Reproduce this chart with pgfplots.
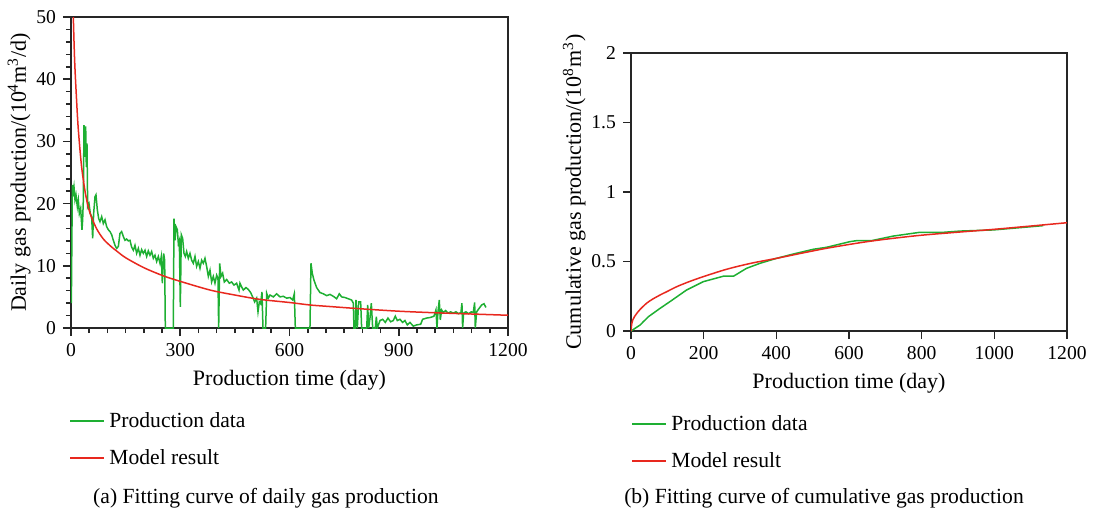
\documentclass[border=0pt]{standalone}
\usepackage{fontspec}
\setmainfont{Liberation Serif}
\usepackage{pgfplots}
\usepackage{pgfplotstable}
\pgfplotsset{compat=1.18}

\definecolor{pgreen}{RGB}{30,175,50}
\definecolor{mred}{RGB}{232,40,30}

% daily production data (day, 10^4 m^3/d)
\pgfplotstableread{
t q
1.0 4.0
3.7 23.0
6.4 21.9
8.2 22.7
11.0 20.6
13.7 21.4
17.4 19.5
20.1 20.6
22.9 18.4
26.5 19.2
30.2 15.8
32.0 17.4
33.9 20.6
35.7 32.6
38.4 27.5
40.3 32.4
42.1 25.9
43.9 29.7
45.8 19.5
49.4 20.0
53.1 18.4
56.7 17.9
59.5 14.4
62.2 18.4
65.9 21.1
68.6 21.4
72.3 19.0
76.0 17.6
79.6 17.1
84.2 17.9
88.8 16.8
93.4 17.4
97.9 16.3
102.5 15.8
107.1 15.5
111.7 15.0
116.2 14.1
120.8 13.3
125.4 12.8
130.0 13.1
134.5 15.2
139.1 15.5
143.7 14.7
148.3 14.1
152.8 14.3
157.4 14.0
162.0 14.1
166.6 13.0
171.2 12.5
175.7 13.3
180.3 12.0
184.9 12.8
189.5 11.7
194.0 12.6
198.6 12.0
203.2 12.5
207.8 11.5
212.3 12.4
216.9 11.7
221.5 12.3
226.1 11.2
230.6 11.7
235.2 10.7
239.8 11.5
244.4 10.4
248.0 11.5
250.8 7.2
254.4 12.0
257.2 10.9
259.0 0
281.0 0
282.8 17.6
285.6 14.1
288.3 16.3
292.0 15.8
294.7 13.6
297.5 14.1
300.2 3.4
302.9 15.0
306.6 14.4
310.3 12.0
313.9 11.5
317.6 12.3
322.2 11.2
326.7 12.0
331.3 10.9
335.9 10.4
340.5 11.5
345.0 9.9
349.6 10.7
354.2 9.6
358.8 10.9
363.4 10.4
367.9 11.2
372.5 9.9
377.1 8.3
381.7 9.3
386.2 7.4
390.8 8.3
395.4 7.2
400.0 8.5
403.6 8.0
405.5 0
408.2 10.4
411.9 8.3
416.4 8.8
421.0 7.4
427.4 7.8
434.7 7.2
441.1 7.4
447.6 6.9
454.9 7.2
461.3 6.1
464.0 7.2
468.6 6.6
473.2 6.1
480.5 6.5
486.9 6.2
493.3 5.7
498.8 5.0
504.3 4.2
509.8 4.8
513.5 2.6
517.1 4.2
520.8 3.9
524.4 5.8
527.2 0
534.5 0
537.3 5.6
541.8 4.8
546.4 5.3
555.6 5.0
564.7 5.5
573.9 5.0
583.0 5.1
592.2 4.8
601.3 4.9
608.6 4.5
613.2 5.5
616.0 0
656.2 0
659.0 10.4
662.6 8.8
667.2 7.7
674.5 6.5
683.7 5.7
692.8 5.5
702.0 5.2
711.1 5.4
720.3 5.1
729.4 4.7
736.7 5.5
743.2 5.0
752.3 4.9
761.5 4.7
770.6 4.5
775.2 4.0
777.0 0
780.7 0
782.6 4.5
786.3 0
789.9 4.2
795.4 4.2
798.1 0
812.0 0
814.7 3.7
817.4 0
821.0 1.6
824.7 4.0
828.4 0
835.7 0
838.5 1.8
841.2 0
848.5 1.2
855.8 1.4
863.1 0.9
870.4 1.6
877.7 1.0
885.0 1.2
890.5 1.9
896.0 1.2
903.3 1.4
910.6 0.9
917.0 1.2
923.5 0.5
930.8 0.9
939.9 0.3
949.1 0.5
960.1 0.6
965.6 1.4
976.6 1.6
987.5 1.7
996.7 1.9
1002.2 2.9
1005.0 0
1007.7 2.6
1011.3 4.5
1014.1 1.3
1017.7 2.9
1022.3 2.5
1028.7 2.8
1035.1 2.4
1042.4 2.6
1049.7 2.4
1057.1 2.6
1064.4 2.3
1070.8 2.5
1073.5 4.0
1075.4 0
1078.1 2.4
1084.5 2.6
1091.9 2.3
1099.2 2.6
1104.7 2.5
1108.4 4.1
1110.2 0
1113.9 2.6
1121.2 3.2
1127.6 3.7
1134.0 3.9
1139.5 3.3
}\dailydata

% daily model result
\pgfplotstableread{
t q
4 56
6.4 50
10 43
15 37
20 32
29 26
40 21.5
52 18.5
70 16
89 14.3
110 13.1
125 12.4
150 11.3
200 9.7
253 8.4
300 7.5
382 6.1
450 5.3
519 4.6
600 4.1
656 3.7
700 3.5
793 3.1
900 2.7
1000 2.45
1100 2.25
1200 2.05
}\dailymodel

% cumulative production data (day, 10^8 m^3)
\pgfplotstableread{
t Q
0 0
25 0.043
34 0.067
48 0.103
80 0.163
107 0.211
153 0.295
199 0.355
254 0.394
282 0.394
318 0.451
355 0.487
401 0.523
447 0.554
502 0.588
538 0.602
603 0.643
621 0.650
662 0.650
722 0.683
795 0.710
860 0.710
906 0.719
997 0.727
1135 0.758
}\cumdata

% cumulative model result
\pgfplotstableread{
t Q
0 0
2 0.05
5 0.08
10 0.105
16 0.127
25 0.155
43 0.2
60 0.23
80 0.259
100 0.285
126 0.319
160 0.355
199 0.391
263 0.444
330 0.487
401 0.523
470 0.56
538 0.595
630 0.635
700 0.66
795 0.688
900 0.711
997 0.731
1100 0.755
1200 0.779
}\cummodel

\begin{document}
\begin{tikzpicture}[x=1pt,y=1pt]
\path[use as bounding box] (-35.5pt,-93pt) rectangle (511pt,164pt);

\pgfplotsset{
  every axis/.append style={
    scale only axis,
    axis line style={black!85, line width=0.9pt},
    tick style={black!85, line width=0.8pt},
    tick align=outside,
    xtick pos=bottom, ytick pos=left,
    major tick length=4pt,
    minor tick length=2.5pt,
    xmin=0, xmax=1200, ymin=0,
    /pgf/number format/assume math mode=true,
    /pgf/number format/1000 sep={},
    tick label style={font=\fontsize{9.8}{11}\selectfont},
    label style={font=\fontsize{11}{13}\selectfont},
    xlabel={Production time (day)},
    ylabel shift=-4pt,
    legend style={draw=none, fill=none, font=\fontsize{10.8}{13}\selectfont,
      row sep=5.5pt, anchor=north west},
    legend cell align=left,
  },
  greenleg/.style={legend image code/.code={\draw[pgreen, line width=1pt] (0pt,0pt) -- (17pt,0pt);}},
  redleg/.style={legend image code/.code={\draw[mred, line width=1pt] (0pt,0pt) -- (17pt,0pt);}},
}

\begin{axis}[
  at={(0pt,0pt)}, anchor=south west,
  width=218.5pt, height=155.5pt,
  ymax=50,
  xtick={0,300,...,1200}, minor x tick num=5,
  ytick={0,10,...,50}, minor y tick num=4,
  ylabel={Daily gas production/(10\textsuperscript{4}m\textsuperscript{3}/d)},
  legend style={at={(axis description cs:0,0)}, xshift=-4pt, yshift=-38pt},
]
\addplot[pgreen, line width=0.75pt, forget plot] table[x=t, y=q] {\dailydata};
\addplot[mred, line width=0.75pt, smooth, forget plot] table[x=t, y=q] {\dailymodel};
\addlegendimage{greenleg}
\addlegendentry{Production data}
\addlegendimage{redleg}
\addlegendentry{Model result}
\end{axis}

\begin{axis}[
  at={(280pt,-1.5pt)}, anchor=south west,
  width=218pt, height=139pt,
  ymax=2,
  xtick={0,200,...,1200},
  ytick={0,0.5,1,1.5,2},
  ylabel={Cumulative gas production/(10\textsuperscript{8}m\textsuperscript{3})},
  legend style={at={(axis description cs:0,0)}, xshift=-3pt, yshift=-38pt},
]
\addplot[pgreen, line width=0.75pt, forget plot] table[x=t, y=Q] {\cumdata};
\addplot[mred, line width=0.75pt, smooth, forget plot] table[x=t, y=Q] {\cummodel};
\addlegendimage{greenleg}
\addlegendentry{Production data}
\addlegendimage{redleg}
\addlegendentry{Model result}
\end{axis}

\node[font=\fontsize{10.8}{13}\selectfont] at (97.5pt,-85pt) {(a) Fitting curve of daily gas production};
\node[font=\fontsize{10.8}{13}\selectfont] at (376.5pt,-85pt) {(b) Fitting curve of cumulative gas production};
\end{tikzpicture}
\end{document}
